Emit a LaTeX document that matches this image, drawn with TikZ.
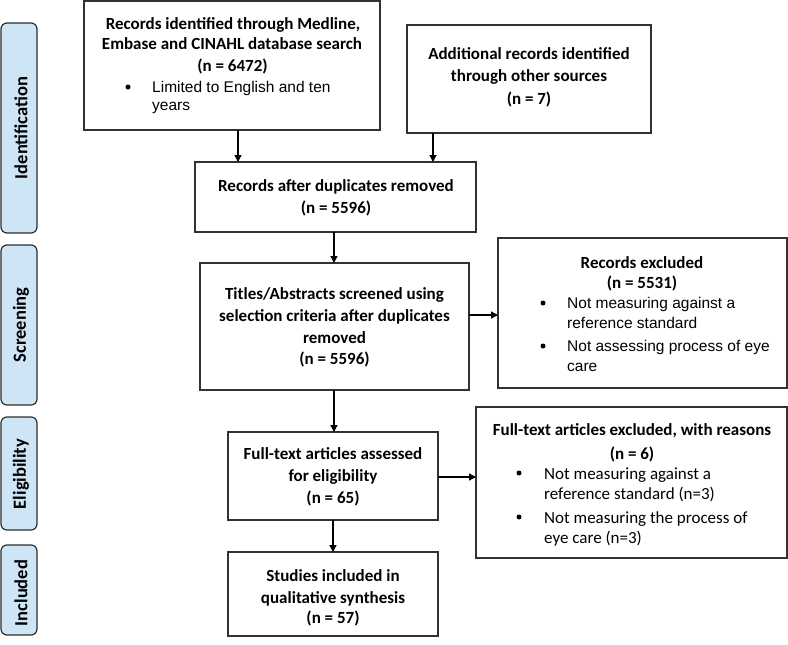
\documentclass[tikz,border=0pt]{standalone}
\usepackage{fontspec}
\setmainfont{Carlito}
\newfontfamily\arialf{Liberation Sans}
\usetikzlibrary{arrows.meta}
\definecolor{sideblue}{RGB}{206,229,246}
\definecolor{sideedge}{RGB}{45,45,45}
\definecolor{boxedge}{RGB}{50,50,50}
\tikzset{
  box/.style={draw=boxedge, line width=1.5pt, inner sep=0pt, outer sep=0pt},
  side/.style={draw=sideedge, fill=sideblue, line width=1.2pt, rounded corners=6pt, rotate=90,
    font=\fontsize{18.5}{21}\selectfont\bfseries, inner sep=0pt, minimum height=36pt},
  sidetxt/.style={rotate=90, font=\fontsize{18.5}{21}\selectfont\bfseries, inner sep=0pt},
  ttl/.style={font=\fontsize{17}{21}\selectfont\bfseries, anchor=base, inner sep=0pt},
  bla/.style={font=\arialf\fontsize{15.5}{19}\selectfont, anchor=base west, inner sep=0pt},
  blc/.style={font=\fontsize{17}{20}\selectfont, anchor=base west, inner sep=0pt},
  dot/.style={circle, fill=black, inner sep=0pt, minimum size=5pt},
  arr/.style={line width=1.3pt, -{Triangle[length=7pt,width=7pt]}}
}
\begin{document}
\begin{tikzpicture}[x=1pt,y=-1pt]
\useasboundingbox (0,0) rectangle (788,645);
% side labels
\node[side, minimum width=210pt] (sid) at (19,128) {};
\node[sidetxt] (sidt) at (21,128) {Identification};
\node[side, minimum width=160pt] (sscr) at (19,325) {};
\node[sidetxt] (sscrt) at (21,325) {Screening};
\node[side, minimum width=113pt] (selg) at (19,473.5) {};
\node[sidetxt] (selgt) at (21,474) {Eligibility};
\node[side, minimum width=90pt] (sinc) at (19,590) {};
\node[sidetxt] (sinct) at (21,593) {Included};
% boxes
\node[box, minimum width=296pt, minimum height=129pt] (b1) at (232,65.5) {};
\node[box, minimum width=244pt, minimum height=108pt] (b2) at (529,79) {};
\node[box, minimum width=281pt, minimum height=70pt] (b3) at (335.5,197) {};
\node[box, minimum width=269pt, minimum height=127pt] (b4) at (334.5,326.5) {};
\node[box, minimum width=289pt, minimum height=150pt] (b5) at (642.5,313) {};
\node[box, minimum width=210pt, minimum height=88pt] (b6) at (333,476) {};
\node[box, minimum width=311pt, minimum height=151pt] (b7) at (631.5,482.5) {};
\node[box, minimum width=210pt, minimum height=84pt] (b8) at (333,594) {};
% box 1 text
\node[ttl] (t1a) at (233,29) {Records identified through Medline,};
\node[ttl] (t1b) at (232,49) {Embase and CINAHL database search};
\node[ttl] (t1c) at (232.5,71) {(n = 6472)};
\node[dot] (d1) at (128,87) {};
\node[bla] (t1d) at (152,92.5) {Limited to English and ten};
\node[bla] (t1e) at (152,110.5) {years};
% box 2 text
\node[ttl] (t2a) at (529,59) {Additional records identified};
\node[ttl] (t2b) at (529,81) {through other sources};
\node[ttl] (t2c) at (529,104) {(n = 7)};
% box 3 text
\node[ttl] (t3a) at (336,191) {Records after duplicates removed};
\node[ttl] (t3b) at (336,213) {(n = 5596)};
% box 4 text
\node[ttl] (t4a) at (334.5,299) {Titles/Abstracts screened using};
\node[ttl] (t4b) at (334.5,321) {selection criteria after duplicates};
\node[ttl] (t4c) at (334.5,343) {removed};
\node[ttl] (t4d) at (334.5,364) {(n = 5596)};
% box 5 text
\node[ttl] (t5a) at (642,268) {Records excluded};
\node[ttl] (t5b) at (642,288) {(n = 5531)};
\node[dot] (d5a) at (543,303) {};
\node[bla] (t5c) at (567,308.5) {Not measuring against a};
\node[bla] (t5d) at (567,328.5) {reference standard};
\node[dot] (d5b) at (543,346) {};
\node[bla] (t5e) at (567,351.5) {Not assessing process of eye};
\node[bla] (t5f) at (567,371.5) {care};
% box 6 text
\node[ttl] (t6a) at (333,459) {Full-text articles assessed};
\node[ttl] (t6b) at (333,481) {for eligibility};
\node[ttl] (t6c) at (333,503) {(n = 65)};
% box 7 text
\node[ttl] (t7a) at (632,435) {Full-text articles excluded, with reasons};
\node[ttl] (t7b) at (632,459) {(n = 6)};
\node[dot] (d7a) at (519,473) {};
\node[blc] (t7c) at (544,479) {Not measuring against a};
\node[blc] (t7d) at (544,499) {reference standard (n=3)};
\node[dot] (d7b) at (519,517) {};
\node[blc] (t7e) at (544,523) {Not measuring the process of};
\node[blc] (t7f) at (544,543) {eye care (n=3)};
% box 8 text
\node[ttl] (t8a) at (333,581) {Studies included in};
\node[ttl] (t8b) at (333,603) {qualitative synthesis};
\node[ttl] (t8c) at (333,623) {(n = 57)};
% connectors
\draw[arr] ([xshift=6pt]b1.south) -- ([xshift=6pt]b1.south |- b3.north);
\draw[arr] ([xshift=-96pt]b2.south) -- ([xshift=-96pt]b2.south |- b3.north);
\draw[arr] ([xshift=-1.5pt]b3.south) -- ([xshift=-1.5pt]b3.south |- b4.north);
\draw[arr] ([yshift=11.5pt]b4.east) -- ([yshift=11.5pt]b4.east -| b5.west);
\draw[arr] ([xshift=-0.5pt]b4.south) -- ([xshift=-0.5pt]b4.south |- b6.north);
\draw[arr] ([yshift=-1pt]b6.east) -- ([yshift=-1pt]b6.east -| b7.west);
\draw[arr] (b6.south) -- (b8.north);
\end{tikzpicture}
\end{document}
